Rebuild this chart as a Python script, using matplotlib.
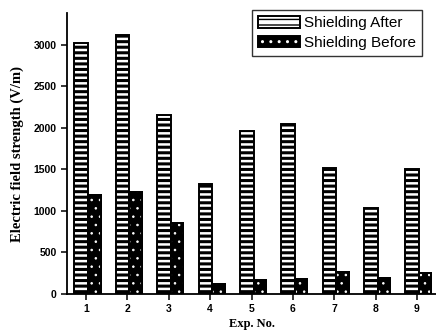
import matplotlib
matplotlib.use("Agg")
import matplotlib.pyplot as plt
import numpy as np
from matplotlib.patches import Patch
from matplotlib.legend_handler import HandlerTuple

exp_no = [1, 2, 3, 4, 5, 6, 7, 8, 9]
shield_after = [3020, 3120, 2150, 1320, 1960, 2040, 1510, 1030, 1500]
shield_before = [1190, 1230, 860, 120, 170, 180, 260, 190, 250]
y_ticks = [0, 500, 1000, 1500, 2000, 2500, 3000]

STRIPE_LW = 2.2
DOT_LW = 0.6


def set_hlw(artists, lw):
    for a in artists:
        if hasattr(a, 'set_hatch_linewidth'):
            a.set_hatch_linewidth(lw)


fig = plt.figure(figsize=(4.36, 3.33), dpi=100)
ax = fig.add_axes([0.1537, 0.117, 0.8463, 0.844])

x = np.array(exp_no, dtype=float)
w_a, w_b = 0.33, 0.30
off_a, off_b = -0.115, 0.20

with plt.rc_context({'hatch.linewidth': STRIPE_LW}):
    bars_a = ax.bar(x + off_a, shield_after, width=w_a, facecolor='white',
                    edgecolor='black', hatch='---', linewidth=1.4, zorder=2)
    set_hlw(bars_a, STRIPE_LW)
    h_after = Patch(facecolor='white', edgecolor='black', hatch='---', linewidth=1.4)
    set_hlw([h_after], STRIPE_LW)

ax.bar(x + off_b, shield_before, width=w_b, facecolor='black', edgecolor='black',
       linewidth=1.4, zorder=2)
with plt.rc_context({'hatch.linewidth': DOT_LW}):
    bars_d = ax.bar(x + off_b, shield_before, width=w_b, facecolor='none',
                    edgecolor='white', hatch='..', linewidth=0, zorder=3)
    set_hlw(bars_d, DOT_LW)
    h_dots = Patch(facecolor='none', edgecolor='white', hatch='..', linewidth=0)
    set_hlw([h_dots], DOT_LW)
ax.bar(x + off_b, shield_before, width=w_b, facecolor='none', edgecolor='black',
       linewidth=1.4, zorder=4)
h_bk = Patch(facecolor='black', edgecolor='black', linewidth=1.4)

ax.set_xlim(0.54, 9.46)
ax.set_ylim(0, 3380)
ax.set_xticks(exp_no)
ax.set_xticklabels([str(v) for v in exp_no])
ax.set_yticks(y_ticks)
ax.set_yticklabels([str(v) for v in y_ticks])

for s in ['top', 'right']:
    ax.spines[s].set_visible(False)
for s in ['left', 'bottom']:
    ax.spines[s].set_linewidth(1.3)

ax.tick_params(axis='both', direction='out', width=1.1, length=4.5, pad=3,
               labelsize=7.5)
for lab in ax.get_xticklabels() + ax.get_yticklabels():
    lab.set_fontfamily('Liberation Sans')
    lab.set_fontweight('bold')

ax.set_ylabel('Electric field strength (V/m)', family='Liberation Serif',
              fontweight='bold', fontsize=10.5, labelpad=7)
ax.set_xlabel('Exp. No.', family='Liberation Serif', fontweight='bold',
              fontsize=9, labelpad=2.5)

leg = fig.legend([h_after, (h_bk, h_dots)], ['Shielding After', 'Shielding Before'],
                 handler_map={tuple: HandlerTuple(ndivide=1, pad=0)},
                 loc='upper right', bbox_to_anchor=(0.968, 0.97),
                 prop={'family': 'Liberation Sans', 'size': 11},
                 frameon=True, fancybox=False, edgecolor='black',
                 handlelength=2.75, handleheight=0.8, handletextpad=0.25,
                 borderpad=0.4, labelspacing=0.35, borderaxespad=0)
leg.get_frame().set_linewidth(1.0)

fig.savefig('out.png', dpi=100)
